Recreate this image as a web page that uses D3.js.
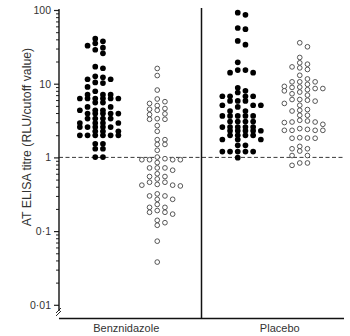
<!DOCTYPE html>
<html>
<head>
<meta charset="utf-8">
<script src="https://cdn.jsdelivr.net/npm/d3@7"></script>
<style>
  body { margin: 0; background: #fff; }
  svg { display: block; }
  text { font-family: "Liberation Sans", Arial, sans-serif; fill: #333; }
</style>
</head>
<body>
<svg id="chart" width="350" height="336"></svg>
<script>
// Treatment groups along the x axis
const categories = ["Benznidazole", "Placebo"];

// AT ELISA titres (RLU / cutoff value), one entry per patient
const benzSolid = [40.8, 37.6, 35.3, 32.8, 30.8, 28.9, 25.8, 17.0, 16.2, 12.6, 12.2, 11.5, 11.5, 10.4, 10.2,
  9.05, 7.9, 7.1, 7.1, 7.1, 6.3, 6.3, 6.3, 6.3, 6.3, 6.3, 5.55, 5.55, 4.84, 4.84, 4.36, 4.36, 4.36,
  3.93, 3.93, 3.93, 3.93, 3.93, 3.36, 3.36, 3.36, 3.36, 2.93, 2.93, 2.93, 2.93, 2.58, 2.58, 2.58, 2.58, 2.58,
  2.26, 2.26, 2.26, 1.99, 1.99, 1.99, 1.99, 1.99, 1.99, 1.53, 1.53, 1.31, 1.31, 1.01, 1.01];

const benzHollow = [16.1, 12.9, 8.2, 6.2, 5.7, 5.4, 5.05, 4.6, 4.5, 4.36, 3.9, 3.81, 3.35, 3.29, 3.29, 2.7,
  2.26, 1.74, 1.74, 1.5, 1.5, 1.25, 1.01, 0.96, 0.93, 0.93, 0.93, 0.93, 0.85, 0.72, 0.72, 0.72, 0.67, 0.6,
  0.55, 0.55, 0.51, 0.46, 0.46, 0.43, 0.42, 0.42, 0.41, 0.32, 0.3, 0.3, 0.27, 0.27, 0.23, 0.21, 0.21, 0.19,
  0.18, 0.18, 0.17, 0.14, 0.13, 0.12, 0.073, 0.038];

const placeboSolid = [91.9, 86, 57, 55, 38, 33.8, 19.5, 15.3, 15.3, 14.1, 14.1, 8.8, 8.0, 7.6,
  6.76, 6.76, 6.76, 6.76, 5.83, 5.83, 5.83, 5.1, 5.1, 5.1, 4.84, 4.26, 4.26, 3.65, 3.65, 3.65, 3.65, 3.65,
  3.06, 3.06, 3.06, 3.06, 2.58, 2.58, 2.58, 2.58, 2.58, 2.3, 2.3, 2.3, 2.3, 2.3, 1.99, 1.99, 1.99, 1.99,
  1.75, 1.75, 1.75, 1.46, 1.46, 1.2, 1.2, 1.2, 1.2, 1.2, 0.99];

const placeboHollow = [35.9, 31.7, 22.7, 19.2, 18.4, 16.9, 16.4, 15.6, 13.0, 11.6, 10.6, 10.6, 10.6, 9.8,
  9.2, 9.0, 8.9, 8.6, 8.6, 8.3, 8.0, 7.7, 7.3, 7.0, 6.1, 6.1, 5.97, 5.8, 5.4, 5.1, 4.46, 4.36, 4.26, 3.73,
  3.73, 3.19, 3.12, 3.02, 3.02, 2.97, 2.81, 2.46, 2.4, 2.33, 2.33, 2.33, 2.33, 1.85, 1.83, 1.82, 1.82, 1.41,
  1.31, 1.31, 1.22, 1.06, 1.06, 0.84, 0.84, 0.78];

// Axis ticks
const yTicks = [0.01, 0.1, 1, 10, 100];
const yTickLabels = ["0·01", "0·1", "1", "10", "100"];
const cutoffValue = 1;
const yTitle = "AT ELISA titre (RLU/cutoff value)";

const series = [
  { group: "Benznidazole", values: benzSolid, solid: true },
  { group: "Benznidazole", values: benzHollow, solid: false },
  { group: "Placebo", values: placeboSolid, solid: true },
  { group: "Placebo", values: placeboHollow, solid: false }
];

const svg = d3.select("#chart");
const plotLeft = 59, plotRight = 344, plotTop = 10, axisBottom = 318.5;

const x = d3.scaleBand().domain(categories).range([plotLeft, plotRight]);
const y = d3.scaleLog().domain([0.01, 100]).range([304.8, plotTop]);

// Horizontal dodge: each point takes the first free column slot near its group's centre
const slotStep = 7.7;
const slotOrder = [0, 1, -1, 2, -2, 3];
const minGap = 4.6;
function dodge(values, cx) {
  const taken = new Map(slotOrder.map(s => [s, []]));
  return values.slice().sort((a, b) => b - a).map(v => {
    const py = y(v);
    let chosen = null, bestGap = -1;
    for (const s of slotOrder) {
      const ys = taken.get(s);
      const gap = ys.length ? d3.min(ys, q => Math.abs(q - py)) : Infinity;
      if (gap >= minGap) { chosen = s; break; }
      if (gap > bestGap) { bestGap = gap; chosen = s; }
    }
    taken.get(chosen).push(py);
    return { v, px: cx + chosen * slotStep, py };
  });
}

// Minor ticks (2–9 in each decade)
const minorTicks = [];
for (let e = -2; e < 2; e++) for (let m = 2; m <= 9; m++) minorTicks.push(m * Math.pow(10, e));

svg.append("g").attr("transform", `translate(${plotLeft},0)`)
  .call(d3.axisLeft(y).tickValues(minorTicks).tickSize(3).tickFormat(""))
  .call(g => g.select(".domain").remove())
  .call(g => g.selectAll("line").attr("stroke", "#222").attr("stroke-width", 1));
svg.append("g").attr("transform", `translate(${plotLeft},0)`)
  .call(d3.axisLeft(y).tickValues(yTicks).tickSize(5).tickPadding(3)
    .tickFormat((d, i) => yTickLabels[i]))
  .call(g => g.select(".domain").remove())
  .call(g => g.selectAll("line").attr("stroke", "#222").attr("stroke-width", 1.2))
  .call(g => g.selectAll("text").attr("font-size", 10.5).style("fill", "#333")
    .style("font-family", '"Liberation Sans", Arial, sans-serif'));

// Axis lines, with a break near the origin
svg.append("line").attr("x1", plotLeft).attr("x2", plotLeft).attr("y1", plotTop - 1).attr("y2", 311)
  .attr("stroke", "#111").attr("stroke-width", 1.4);
[0, 3].forEach(o => svg.append("line")
  .attr("x1", plotLeft - 3).attr("y1", 313 + o).attr("x2", plotLeft + 2).attr("y2", 308 + o)
  .attr("stroke", "#111").attr("stroke-width", 0.9));
svg.append("line").attr("x1", plotLeft).attr("x2", plotRight).attr("y1", axisBottom).attr("y2", axisBottom)
  .attr("stroke", "#111").attr("stroke-width", 1.4);

// Group separator
svg.append("line").attr("x1", x("Placebo")).attr("x2", x("Placebo"))
  .attr("y1", 8).attr("y2", axisBottom)
  .attr("stroke", "#111").attr("stroke-width", 1.5);

// Cutoff line
svg.append("line").attr("x1", plotLeft).attr("x2", plotRight)
  .attr("y1", y(cutoffValue)).attr("y2", y(cutoffValue))
  .attr("stroke", "#222").attr("stroke-width", 0.9).attr("stroke-dasharray", "4,2.5");

// Points
series.forEach(s => {
  const centre = x(s.group) + x.bandwidth() / 2 + (s.solid ? -35 : 27);
  const pts = dodge(s.values, centre);
  svg.append("g").selectAll("circle").data(pts).join("circle")
    .attr("cx", d => d.px).attr("cy", d => d.py)
    .attr("r", s.solid ? 2.85 : 2.35)
    .attr("fill", s.solid ? "#000" : "#fff")
    .attr("stroke", s.solid ? "none" : "#444")
    .attr("stroke-width", s.solid ? 0 : 0.9);
});

// Category labels
svg.append("g").selectAll("text").data(categories).join("text")
  .attr("x", (d, i) => x(d) + x.bandwidth() / 2 + (i === 0 ? -4 : 7))
  .attr("y", 332)
  .attr("text-anchor", "middle")
  .attr("font-size", 11)
  .text(d => d);

// Y title
svg.append("text")
  .attr("transform", `translate(31,137) rotate(-90)`)
  .attr("text-anchor", "middle")
  .attr("font-size", 12.3)
  .text(yTitle);
</script>
</body>
</html>
